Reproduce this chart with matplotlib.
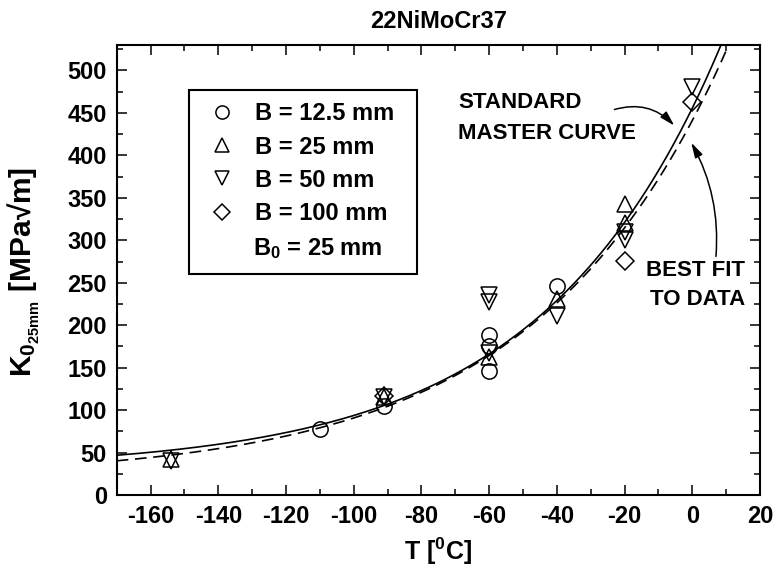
import numpy as np
import matplotlib
matplotlib.use("Agg")
import matplotlib.pyplot as plt
from matplotlib.patches import Rectangle
from matplotlib.ticker import MultipleLocator

plt.rcParams['font.family'] = ['Liberation Sans', 'DejaVu Sans']
plt.rcParams['font.weight'] = 'bold'
plt.rcParams['axes.labelweight'] = 'bold'
plt.rcParams['axes.unicode_minus'] = False
plt.rcParams['mathtext.fontset'] = 'custom'
plt.rcParams['mathtext.rm'] = 'Liberation Sans:bold'
plt.rcParams['mathtext.bf'] = 'Liberation Sans:bold'
plt.rcParams['mathtext.it'] = 'Liberation Sans:bold'
plt.rcParams['mathtext.default'] = 'regular'

# Fracture toughness data, 22NiMoCr37, converted to B0 = 25 mm
T_b12 = [-110, -91, -60, -60, -60, -40]
K_b12 = [78, 105, 188, 175, 146, 246]

T_b25 = [-154, -91, -60, -40, -20, -20]
K_b25 = [42, 115, 162, 231, 343, 320]

T_b50 = [-154, -91, -60, -60, -60, -40, -20, -20, 0]
K_b50 = [40, 115, 236, 227, 167, 211, 310, 300, 481]

T_b100 = [-91, -20, 0]
K_b100 = [117, 276, 463]

legend_labels = ['B = 12.5 mm', 'B = 25 mm', 'B = 50 mm', 'B = 100 mm', 'B$_0$ = 25 mm']
legend_markers = ['o', '^', 'v', 'D', None]

# Master curve: K = 30 + 70 exp(0.019 (T - T0))
T0 = -95.0
# Best fit to data: K = a + b exp(c T)
fit_a, fit_b, fit_c = 20.0, 421.0, 0.01784

T = np.linspace(-170, 20, 400)
K_master = 30 + 70 * np.exp(0.019 * (T - T0))
K_fit = fit_a + fit_b * np.exp(fit_c * T)

fig = plt.figure(figsize=(7.77, 5.74), dpi=100)
ax = fig.add_axes([0.1502, 0.1376, 0.8279, 0.7840])

ax.plot(T, K_master, color='black', lw=1.2, zorder=3)
ax.plot(T, K_fit, color='black', lw=1.2, dashes=(7, 4), zorder=3)

mk = dict(linestyle='none', markerfacecolor='none', markeredgecolor='black',
          markeredgewidth=1.1, zorder=4)
ax.plot(T_b12, K_b12, marker='o', markersize=11, **mk)
ax.plot(T_b25, K_b25, marker='^', markersize=12, **mk)
ax.plot(T_b50, K_b50, marker='v', markersize=12, **mk)
ax.plot(T_b100, K_b100, marker='D', markersize=9.5, **mk)

ax.set_xlim(-170, 20)
ax.set_ylim(0, 530)
ax.xaxis.set_major_locator(MultipleLocator(20))
ax.xaxis.set_minor_locator(MultipleLocator(10))
ax.yaxis.set_major_locator(MultipleLocator(50))
ax.yaxis.set_minor_locator(MultipleLocator(25))
ax.tick_params(which='both', direction='in', top=True, right=True, width=1.1,
               labelsize=17, pad=7)
ax.tick_params(which='major', length=7)
ax.tick_params(which='minor', length=4.5)
for s in ax.spines.values():
    s.set_linewidth(1.5)

ax.set_title('22NiMoCr37', fontsize=17, fontweight='bold', pad=12)
ax.set_xlabel('T [$^0$C]', fontsize=18, labelpad=6)
ax.set_ylabel(r'K$_{0_{25mm}}$ [MPa√m]', fontsize=21.5, va='center')
ax.yaxis.set_label_coords(-0.1442, 0.495)

# Legend box drawn in axes fractions
box_l, box_r, box_t, box_b = 0.1124, 0.4663, 0.900, 0.491
ax.add_patch(Rectangle((box_l, box_b), box_r - box_l, box_t - box_b,
                       transform=ax.transAxes, fill=False, edgecolor='black',
                       lw=1.5, zorder=5))
marker_y = [0.8518, 0.7778, 0.7038, 0.6296, None]
text_base_y = [0.8329, 0.7589, 0.6849, 0.6107, 0.5329]
msizes = {'o': 9.5, '^': 10.5, 'v': 10.5, 'D': 8.5}
for m, lab, my, ty in zip(legend_markers, legend_labels, marker_y, text_base_y):
    if m is not None:
        ax.plot([0.1637], [my], marker=m, markersize=msizes[m], transform=ax.transAxes,
                clip_on=False, **dict(mk, zorder=6))
    ax.text(0.2150 if m is not None else 0.2114, ty, lab, transform=ax.transAxes,
            fontsize=17, ha='left', va='baseline', zorder=6)

ax.text(0.531, 0.873, 'STANDARD', transform=ax.transAxes, fontsize=16,
        ha='left', va='center')
ax.text(0.531, 0.804, 'MASTER CURVE', transform=ax.transAxes, fontsize=16,
        ha='left', va='center')
ax.text(0.900, 0.500, 'BEST FIT', transform=ax.transAxes, fontsize=16,
        ha='center', va='center')
ax.text(0.903, 0.435, 'TO DATA', transform=ax.transAxes, fontsize=16,
        ha='center', va='center')

arrow = dict(arrowstyle='-|>,head_length=0.9,head_width=0.25', color='black', lw=1.1,
             shrinkA=0, shrinkB=0)
ax.annotate('', xy=(-5.3, 435), xytext=(-23, 454),
            arrowprops=dict(arrow, connectionstyle='arc3,rad=-0.3'))
ax.annotate('', xy=(-0.3, 415), xytext=(7, 281),
            arrowprops=dict(arrow, connectionstyle='arc3,rad=0.15'))

fig.savefig('out.png', dpi=100)
